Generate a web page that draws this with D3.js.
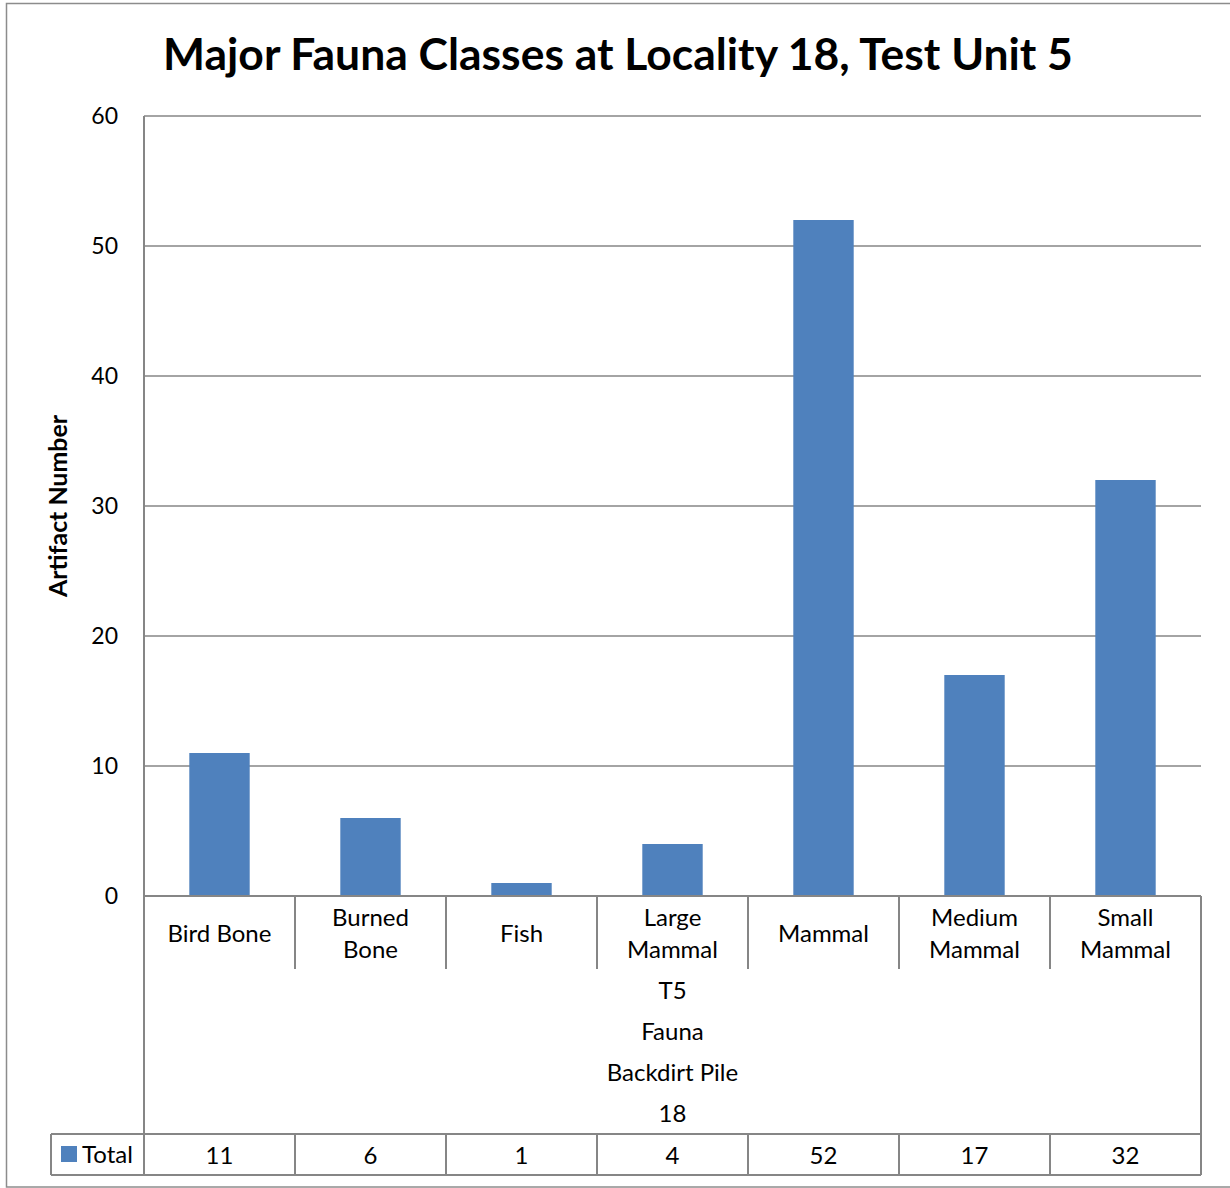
<!DOCTYPE html>
<html>
<head>
<meta charset="utf-8">
<script src="https://cdn.jsdelivr.net/npm/d3@7"></script>
<style>
  html, body { margin: 0; padding: 0; background: #fff; }
  svg { display: block; font-family: Lato, "Open Sans", sans-serif; }
</style>
</head>
<body>
<svg id="chart" width="1230" height="1188"></svg>
<script>
const title = "Major Fauna Classes at Locality 18, Test Unit 5";
const yAxisTitle = "Artifact Number";
const categories = [["Bird Bone"], ["Burned", "Bone"], ["Fish"], ["Large", "Mammal"], ["Mammal"], ["Medium", "Mammal"], ["Small", "Mammal"]];
const values = [11, 6, 1, 4, 52, 17, 32];
const groupLevels = ["T5", "Fauna", "Backdirt Pile", "18"];
const seriesName = "Total";
const yTicks = [0, 10, 20, 30, 40, 50, 60];

const svg = d3.select("#chart");
const W = 1230, H = 1188;
const lineColor = "#868686";
const barColor = "#4F81BD";

const plot = { left: 144, right: 1201, top: 116, bottom: 896 };
const catRowBottom = 969;
const groupBottom = 1134;
const tableBottom = 1175;
const legendLeft = 51;
const fs = 24;

// outer border
svg.append("rect").attr("x", 6.5).attr("y", 3.5).attr("width", W + 20).attr("height", 1183.5)
  .attr("fill", "none").attr("stroke", "#8c8c8c").attr("stroke-width", 1.5);

const keys = categories.map(c => c.join(" "));
const x = d3.scaleBand().domain(keys).range([plot.left, plot.right]);
const y = d3.scaleLinear().domain([0, 60]).range([plot.bottom, plot.top]);

// gridlines
svg.append("g").selectAll("line").data(yTicks.filter(t => t > 0)).join("line")
  .attr("x1", plot.left).attr("x2", plot.right)
  .attr("y1", d => y(d)).attr("y2", d => y(d))
  .attr("stroke", lineColor).attr("stroke-width", 1.5);

// y tick labels
svg.append("g").selectAll("text").data(yTicks).join("text")
  .attr("x", 118).attr("y", d => y(d)).attr("dy", "0.36em")
  .attr("text-anchor", "end").attr("font-size", 23).attr("fill", "#000")
  .text(d => d);

// bars
const bw = x.bandwidth() * 0.4;
svg.append("g").selectAll("rect").data(values).join("rect")
  .attr("x", (d, i) => x(keys[i]) + (x.bandwidth() - bw) / 2)
  .attr("width", bw)
  .attr("y", d => y(d))
  .attr("height", d => y(0) - y(d))
  .attr("fill", barColor);

// axis baseline
svg.append("line").attr("x1", plot.left).attr("x2", plot.right)
  .attr("y1", y(0)).attr("y2", y(0)).attr("stroke", lineColor).attr("stroke-width", 2);

// left axis line (extends through table)
svg.append("line").attr("x1", plot.left).attr("x2", plot.left)
  .attr("y1", plot.top).attr("y2", tableBottom).attr("stroke", lineColor).attr("stroke-width", 2);

// right edge of category/table area
svg.append("line").attr("x1", plot.right).attr("x2", plot.right)
  .attr("y1", y(0)).attr("y2", tableBottom).attr("stroke", lineColor).attr("stroke-width", 2);

// category separators
const inner = keys.slice(1).map(k => x(k));
svg.append("g").selectAll("line").data(inner).join("line")
  .attr("x1", d => d).attr("x2", d => d).attr("y1", y(0)).attr("y2", catRowBottom)
  .attr("stroke", lineColor).attr("stroke-width", 2);

// category labels
const catG = svg.append("g");
categories.forEach((lines, i) => {
  const cx = x(keys[i]) + x.bandwidth() / 2;
  const centers = lines.length === 1 ? [933] : [917, 949];
  lines.forEach((t, j) => {
    catG.append("text").attr("x", cx).attr("y", centers[j]).attr("dy", "0.36em")
      .attr("text-anchor", "middle").attr("font-size", fs).attr("fill", "#000").text(t);
  });
});

// group level labels
const midX = (plot.left + plot.right) / 2;
const levelY = [990, 1031, 1072, 1113];
svg.append("g").selectAll("text").data(groupLevels).join("text")
  .attr("x", midX).attr("y", (d, i) => levelY[i]).attr("dy", "0.36em")
  .attr("text-anchor", "middle").attr("font-size", fs).attr("fill", "#000").text(d => d);

// data table
svg.append("line").attr("x1", legendLeft).attr("x2", plot.right)
  .attr("y1", groupBottom).attr("y2", groupBottom).attr("stroke", lineColor).attr("stroke-width", 2);
svg.append("line").attr("x1", legendLeft).attr("x2", plot.right)
  .attr("y1", tableBottom).attr("y2", tableBottom).attr("stroke", lineColor).attr("stroke-width", 2);
svg.append("line").attr("x1", legendLeft).attr("x2", legendLeft)
  .attr("y1", groupBottom).attr("y2", tableBottom).attr("stroke", lineColor).attr("stroke-width", 2);
svg.append("g").selectAll("line").data(inner).join("line")
  .attr("x1", d => d).attr("x2", d => d).attr("y1", groupBottom).attr("y2", tableBottom)
  .attr("stroke", lineColor).attr("stroke-width", 2);
svg.append("g").selectAll("text").data(values).join("text")
  .attr("x", (d, i) => x(keys[i]) + x.bandwidth() / 2).attr("y", 1155).attr("dy", "0.36em")
  .attr("text-anchor", "middle").attr("font-size", fs).attr("fill", "#000").text(d => d);

// legend key
svg.append("rect").attr("x", 61).attr("y", 1146).attr("width", 16).attr("height", 16).attr("fill", barColor);
svg.append("text").attr("x", 82).attr("y", 1154).attr("dy", "0.36em")
  .attr("font-size", fs).attr("fill", "#000").text(seriesName);

// y axis title (fit to measured length)
const yt = svg.append("text").attr("transform", "translate(58,506) rotate(-90)")
  .attr("dy", "0.36em").attr("text-anchor", "middle")
  .attr("font-size", 24).attr("font-weight", "bold").attr("fill", "#000").text(yAxisTitle);
yt.attr("font-size", 24 * 182 / yt.node().getComputedTextLength());

// title (fit to measured width)
const tt = svg.append("text").attr("x", 618).attr("y", 70).attr("text-anchor", "middle")
  .attr("font-size", 40).attr("font-weight", "bold").attr("fill", "#000").text(title);
const tw = tt.node().getComputedTextLength();
tt.attr("font-size", 40 * 910 / tw);
</script>
</body>
</html>
